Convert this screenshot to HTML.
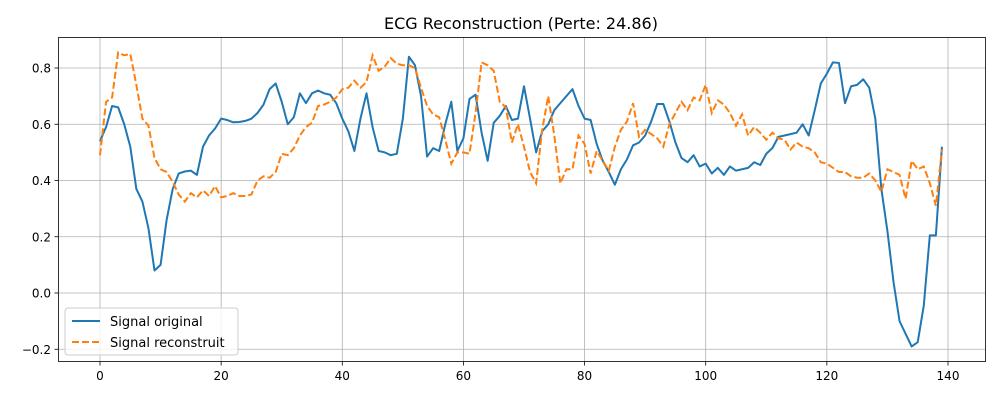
<!DOCTYPE html>
<html><head><meta charset="utf-8"><style>
body{margin:0;background:#fff;font-family:"Liberation Sans","DejaVu Sans",sans-serif;}
svg text{font-family:"DejaVu Sans","Liberation Sans",sans-serif;}
</style></head><body>
<svg id="chart" width="1000" height="400" xmlns="http://www.w3.org/2000/svg">
<rect width="1000" height="400" fill="#fff"/>
<g id="grid"></g>
<g id="series"></g>
<rect x="58.5" y="37.5" width="927" height="324" fill="none" stroke="#000" stroke-width="0.8"/>
<g id="ticks"></g>
<text x="521" y="29" font-size="16" text-anchor="middle">ECG Reconstruction (Perte: 24.86)</text>
<g>
<rect x="65" y="308" width="173" height="47" rx="3" fill="#fff" fill-opacity="0.8" stroke="#ccc"/>
<line x1="72" y1="321" x2="100" y2="321" stroke="#1f77b4" stroke-width="2"/>
<text x="110" y="326" font-size="13">Signal original</text>
<line x1="72" y1="342" x2="100" y2="342" stroke="#ff7f0e" stroke-width="2" stroke-dasharray="7,3"/>
<text x="110" y="347" font-size="13">Signal reconstruit</text>
</g>
</svg>
<script>
const original=[0.54,0.59,0.665,0.66,0.6,0.52,0.37,0.325,0.23,0.08,0.10,0.26,0.37,0.425,0.432,0.435,0.42,0.52,0.56,0.585,0.62,0.615,0.607,0.608,0.612,0.62,0.64,0.67,0.725,0.745,0.68,0.60,0.625,0.71,0.675,0.71,0.72,0.71,0.705,0.675,0.62,0.575,0.505,0.62,0.71,0.59,0.505,0.5,0.49,0.495,0.62,0.84,0.81,0.7,0.485,0.515,0.505,0.6,0.68,0.505,0.55,0.69,0.705,0.57,0.47,0.605,0.63,0.665,0.615,0.62,0.735,0.62,0.5,0.575,0.6,0.65,0.675,0.70,0.725,0.665,0.62,0.615,0.53,0.47,0.43,0.385,0.44,0.475,0.525,0.535,0.56,0.61,0.672,0.672,0.61,0.535,0.48,0.465,0.49,0.45,0.46,0.425,0.445,0.42,0.45,0.435,0.44,0.445,0.465,0.455,0.495,0.515,0.555,0.56,0.565,0.57,0.6,0.56,0.65,0.745,0.78,0.82,0.818,0.675,0.735,0.74,0.76,0.73,0.62,0.37,0.22,0.04,-0.1,-0.145,-0.19,-0.175,-0.045,0.205,0.205,0.52];
const reconstruit=[0.49,0.68,0.695,0.855,0.845,0.85,0.74,0.62,0.595,0.48,0.44,0.43,0.395,0.35,0.325,0.355,0.34,0.365,0.345,0.38,0.34,0.345,0.355,0.345,0.345,0.35,0.4,0.415,0.41,0.43,0.495,0.49,0.515,0.56,0.59,0.605,0.665,0.67,0.68,0.695,0.725,0.73,0.755,0.73,0.75,0.845,0.79,0.805,0.835,0.815,0.81,0.81,0.80,0.73,0.665,0.635,0.625,0.545,0.46,0.5,0.5,0.495,0.64,0.82,0.81,0.79,0.68,0.66,0.535,0.60,0.52,0.43,0.39,0.58,0.70,0.56,0.39,0.44,0.44,0.56,0.53,0.425,0.505,0.47,0.435,0.52,0.58,0.61,0.675,0.555,0.58,0.565,0.55,0.52,0.60,0.64,0.68,0.65,0.695,0.685,0.74,0.64,0.685,0.67,0.64,0.595,0.635,0.56,0.59,0.57,0.545,0.57,0.55,0.545,0.51,0.535,0.52,0.515,0.50,0.465,0.46,0.445,0.43,0.43,0.415,0.41,0.41,0.425,0.40,0.36,0.44,0.43,0.42,0.335,0.47,0.44,0.45,0.39,0.31,0.51];
const xTicks=[0,20,40,60,80,100,120,140];
const yTicks=[-0.2,0.0,0.2,0.4,0.6,0.8];
const NS='http://www.w3.org/2000/svg';
function xs(v){return 100+v*(848/140);}
function ys(v){return 293-v*(225/0.8);}
const grid=document.getElementById('grid'),ticks=document.getElementById('ticks'),series=document.getElementById('series');
function mk(tag,attrs,parent){const e=document.createElementNS(NS,tag);for(const k in attrs)e.setAttribute(k,attrs[k]);parent.appendChild(e);return e;}
xTicks.forEach(t=>{const x=xs(t);
const g=mk('line',{x1:x,x2:x,y1:37,y2:362,stroke:'#b0b0b0','stroke-width':0.8},grid);


mk('line',{x1:x,x2:x,y1:362,y2:365.5,stroke:'#000','stroke-width':0.8},ticks);
const tx=mk('text',{x:x,y:380,'font-size':12,'text-anchor':'middle'},ticks);tx.textContent=t;

});
yTicks.forEach(t=>{const y=ys(t);
const g=mk('line',{x1:58,x2:985,y1:y,y2:y,stroke:'#b0b0b0','stroke-width':0.8},grid);


mk('line',{x1:54.5,x2:58,y1:y,y2:y,stroke:'#000','stroke-width':0.8},ticks);
const tx=mk('text',{x:51,y:y+4.5,'font-size':12,'text-anchor':'end'},ticks);tx.textContent=(t<0?'\u2212':'')+Math.abs(t).toFixed(1);

});
function path(arr){return arr.map((v,i)=>(i?'L':'M')+xs(i).toFixed(2)+','+ys(v).toFixed(2)).join('');}
const p1=mk('path',{d:path(original),fill:'none',stroke:'#1f77b4','stroke-width':2,'stroke-linejoin':'round'},series);


const p2=mk('path',{d:path(reconstruit),fill:'none',stroke:'#ff7f0e','stroke-width':2,'stroke-dasharray':'7,3'},series);


</script>
</body></html>
